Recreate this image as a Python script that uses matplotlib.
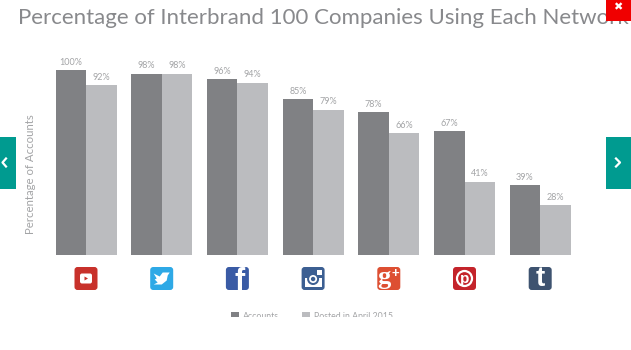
import matplotlib
matplotlib.use("Agg")
import matplotlib.pyplot as plt
from matplotlib.patches import FancyBboxPatch, Rectangle, Circle, Polygon

networks = ["YouTube", "Twitter", "Facebook", "Instagram", "Google+", "Pinterest", "Tumblr"]
# bar heights as drawn in the picture (they sit a little off the printed labels)
accounts = [100, 98, 95.1, 84.3, 77.3, 67, 37.8]
posted = [91.9, 98, 93, 78.4, 65.9, 39.5, 27]
accounts_labels = ["100%", "98%", "96%", "85%", "78%", "67%", "39%"]
posted_labels = ["92%", "98%", "94%", "79%", "66%", "41%", "28%"]
icon_colors = ["#c8312b", "#2ea9e6", "#3a5ba5", "#3c5f92", "#dd4f32", "#c4242b", "#3e5370"]

DARK = "#808184"
LIGHT = "#bbbcbf"
TEAL = "#009b90"
W, H = 631, 350

plt.rcParams["font.family"] = ["Lato", "DejaVu Sans"]
fig = plt.figure(figsize=(W / 100, H / 100), dpi=100)

# bars: one category step is 75.7 px, first group centre at 86 px
step = 75.7
left_px, right_px = 40, 590
top_px, base_px = 70, 255
ax = fig.add_axes([left_px / W, 1 - base_px / H, (right_px - left_px) / W, (base_px - top_px) / H])
ax.set_xlim((left_px - 86) / step, (right_px - 86) / step)
ax.set_ylim(0, 100)
ax.axis("off")

bw = 30.5 / step
xs = list(range(len(networks)))
ax.bar([x - bw / 2 for x in xs], accounts, bw, color=DARK)
ax.bar([x + bw / 2 for x in xs], posted, bw, color=LIGHT)
for x, a, p, la, lp in zip(xs, accounts, posted, accounts_labels, posted_labels):
    ax.annotate(la, (x - bw / 2, a), xytext=(0, 2.5), textcoords="offset points", ha="center", va="bottom",
                fontsize=6.5, color="#a3a4a6", annotation_clip=False)
    ax.annotate(lp, (x + bw / 2, p), xytext=(0, 2.5), textcoords="offset points", ha="center", va="bottom",
                fontsize=6.5, color="#a3a4a6", annotation_clip=False)

# overlay in pixel coords for the page furniture
ov = fig.add_axes([0, 0, 1, 1], zorder=5)
ov.set_xlim(0, W)
ov.set_ylim(H, 0)
ov.axis("off")
ov.patch.set_alpha(0)

ov.text(18, 23.5, "Percentage of Interbrand 100 Companies Using Each Network", fontsize=16,
        color="#88898c", ha="left", va="baseline")
ov.text(30, 174, "Percentage of Accounts", rotation=90, fontsize=8.2, color="#a3a4a6",
        ha="center", va="center")


def draw_icon(i):
    cx = 86 + step * i
    cy = 278.5
    s = 11.5
    color = icon_colors[i]
    ov.add_patch(FancyBboxPatch((cx - s + 2, cy - s + 2), 2 * s - 4, 2 * s - 4,
                                boxstyle="round,pad=2,rounding_size=3", fc=color, ec="none"))
    name = networks[i]
    if name == "YouTube":
        ov.add_patch(FancyBboxPatch((cx - 5, cy - 4), 10, 8, boxstyle="round,pad=1,rounding_size=2",
                                    fc="white", ec="none"))
        ov.add_patch(Polygon([(cx - 1.5, cy - 2), (cx - 1.5, cy + 2), (cx + 2, cy)], fc=color, ec="none"))
    elif name == "Twitter":
        ov.add_patch(Polygon([(cx - 8, cy - 5), (cx - 2, cy - 2), (cx + 1, cy - 6), (cx + 5, cy - 6),
                              (cx + 8, cy - 6), (cx + 6, cy - 3), (cx + 5, cy + 2), (cx, cy + 6),
                              (cx - 8, cy + 6), (cx - 4, cy + 4), (cx - 7, cy + 1), (cx - 5, cy)],
                             fc="white", ec="none"))
    elif name == "Facebook":
        ov.text(cx + 2.5, cy + 3, "f", fontsize=22, fontweight="bold", color="white", ha="center", va="center",
                family="Liberation Sans")
    elif name == "Instagram":
        ov.add_patch(Rectangle((cx - 8.5, cy - 1), 17, 9.5, fc="white", ec="none"))
        ov.add_patch(Circle((cx, cy + 0.5), 6, fc=color, ec="none"))
        ov.add_patch(Circle((cx, cy + 0.5), 4, fc="white", ec="none"))
        ov.add_patch(Circle((cx, cy + 0.5), 2.2, fc=color, ec="none"))
        ov.add_patch(Rectangle((cx + 3.5, cy - 8.5), 5, 5, fc="white", ec="none"))
    elif name == "Google+":
        ov.text(cx - 4.5, cy - 1, "g", fontsize=19, fontweight="bold", color="white", ha="center", va="center",
                family="Liberation Serif")
        ov.text(cx + 7, cy - 5, "+", fontsize=9.5, fontweight="bold", color="white", ha="center", va="center",
                family="Liberation Sans")
    elif name == "Pinterest":
        ov.add_patch(Circle((cx, cy), 7.5, fc="none", ec="white", lw=1.6))
        ov.text(cx, cy, "p", fontsize=11, fontweight="bold", color="white", ha="center", va="center",
                family="Liberation Sans")
    elif name == "Tumblr":
        ov.text(cx, cy, "t", fontsize=20, fontweight="bold", color="white", ha="center", va="center",
                family="Liberation Sans")


for i in range(len(networks)):
    draw_icon(i)

# legend, its lower half is cut off in the original
ov.add_patch(Rectangle((231, 312), 8, 6, fc=DARK, ec="none"))
ov.text(243, 316.5, "Accounts", fontsize=6.3, color="#a3a4a6", ha="left", va="center")
ov.add_patch(Rectangle((302, 312), 8, 6, fc=LIGHT, ec="none"))
ov.text(314, 316.5, "Posted in April 2015", fontsize=6.3, color="#a3a4a6", ha="left", va="center")
ov.add_patch(Rectangle((0, 317), W, 33, fc="white", ec="none", zorder=6))

# side arrows
ov.add_patch(Rectangle((0, 137), 16, 52, fc=TEAL, ec="none"))
ov.plot([6, 2.5, 6], [158.5, 162.5, 166.5], color="white", lw=1.6)
ov.add_patch(Rectangle((606, 137), 25, 52, fc=TEAL, ec="none"))
ov.plot([616, 620, 616], [158.5, 162.5, 166.5], color="white", lw=1.6)

# close button, sits on top of the end of the title
ov.add_patch(Rectangle((606, 0), 25, 21, fc="#f00000", ec="none", zorder=7))
ov.text(618, 7.5, "\u2716", fontsize=8, color="white", ha="center", va="center", family="DejaVu Sans", zorder=8)

fig.savefig("out.png", dpi=100)
